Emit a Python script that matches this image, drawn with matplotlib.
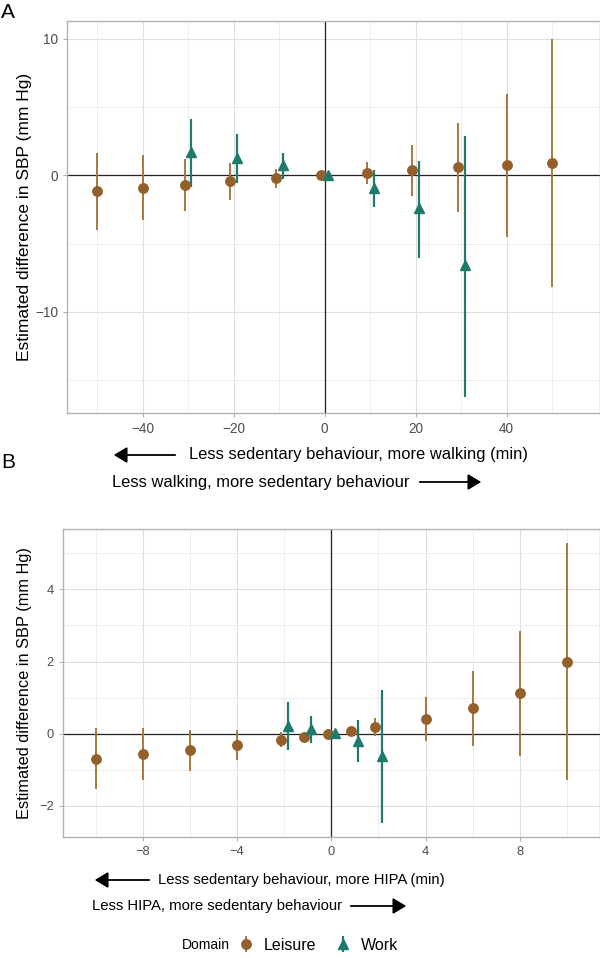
import matplotlib
matplotlib.use("Agg")
import matplotlib.pyplot as plt
import numpy as np

plt.rcParams['font.family'] = ['Liberation Sans', 'DejaVu Sans']

# panel A: walking
a_leis_x = [-50, -40, -30, -20, -10, 0, 10, 20, 30, 40, 50]
a_leis_est = [-1.15, -0.93, -0.68, -0.44, -0.22, 0.0, 0.2, 0.39, 0.61, 0.78, 0.9]
a_leis_lo = [-4.02, -3.29, -2.59, -1.78, -0.93, 0.0, -0.61, -1.49, -2.66, -4.49, -8.15]
a_leis_hi = [1.66, 1.46, 1.2, 0.88, 0.49, 0.0, 1.0, 2.24, 3.83, 5.98, 9.98]
a_work_x = [-30, -20, -10, 0, 10, 20, 30]
a_work_est = [1.7, 1.3, 0.75, 0.0, -0.9, -2.4, -6.6]
a_work_lo = [-0.85, -0.59, -0.29, 0.0, -2.32, -6.05, -16.2]
a_work_hi = [4.15, 3.02, 1.66, 0.0, 0.41, 1.07, 2.85]

# panel B: HIPA
b_leis_x = [-10, -8, -6, -4, -2, -1, 0, 1, 2, 4, 6, 8, 10]
b_leis_est = [-0.69, -0.57, -0.45, -0.31, -0.17, -0.08, 0.0, 0.08, 0.19, 0.41, 0.70, 1.12, 2.0]
b_leis_lo = [-1.54, -1.29, -1.02, -0.74, -0.38, -0.12, 0.0, 0.04, -0.07, -0.19, -0.35, -0.63, -1.27]
b_leis_hi = [0.16, 0.15, 0.11, 0.09, 0.05, -0.04, 0.0, 0.12, 0.44, 1.01, 1.75, 2.85, 5.27]
b_work_x = [-2, -1, 0, 1, 2]
b_work_est = [0.22, 0.13, 0.02, -0.19, -0.63]
b_work_lo = [-0.44, -0.27, 0.02, -0.77, -2.47]
b_work_hi = [0.87, 0.5, 0.02, 0.39, 1.22]

brown = '#93602B'
brown_bar = '#A9773F'
teal = '#1D7A6D'
teal_bar = '#24796D'


def panel(ax, lx, le, llo, lhi, wx, we, wlo, whi, dodge, fs, tfs):
    lx = np.array(lx, float)
    wx = np.array(wx, float)
    both = np.isin(lx, wx)
    lxd = lx - dodge * both
    wxd = wx + dodge
    le, llo, lhi = map(np.array, (le, llo, lhi))
    we, wlo, whi = map(np.array, (we, wlo, whi))
    ax.axhline(0, color='#222222', lw=0.9, zorder=1)
    ax.axvline(0, color='#222222', lw=0.9, zorder=1)
    h1 = ax.errorbar(lxd, le, yerr=[le - llo, lhi - le], fmt='o', ms=6.8,
                     color=brown, ecolor=brown_bar, elinewidth=1.4, capsize=0,
                     zorder=3, label='Leisure')
    h2 = ax.errorbar(wxd, we, yerr=[we - wlo, whi - we], fmt='^', ms=7.5,
                     color=teal, ecolor=teal_bar, elinewidth=1.6, capsize=0,
                     zorder=3, label='Work')
    ax.grid(True, which='major', color='#DEDEDE', lw=0.8, zorder=0)
    ax.grid(True, which='minor', color='#EBEBEB', lw=0.6, zorder=0)
    ax.set_axisbelow(True)
    for s in ax.spines.values():
        s.set_color('#B3B3B3')
        s.set_linewidth(1.0)
    ax.tick_params(which='major', colors='#B3B3B3', labelcolor='#4D4D4D',
                   labelsize=tfs, length=3)
    ax.tick_params(which='minor', length=0)
    ax.set_ylabel('Estimated difference in SBP (mm Hg)', fontsize=fs)
    return h1, h2


fig = plt.figure(figsize=(6, 9.58), dpi=100)

axA = fig.add_axes([67 / 600, 1 - 413 / 958, 533 / 600, 392 / 958])
h1, h2 = panel(axA, a_leis_x, a_leis_est, a_leis_lo, a_leis_hi,
               a_work_x, a_work_est, a_work_lo, a_work_hi, 0.75, 12.5, 9.8)
axA.set_xlim(-56.6, 60.5)
axA.set_ylim(-17.4, 11.3)
axA.set_xticks([-40, -20, 0, 20, 40])
axA.set_xticks([-50, -30, -10, 10, 30, 50], minor=True)
axA.set_yticks([-10, 0, 10])
axA.set_yticks([-15, -5, 5], minor=True)
axA.set_xticklabels(['\u221240', '\u221220', '0', '20', '40'])
axA.set_yticklabels(['\u221210', '0', '10'])
axA.yaxis.set_label_coords(-0.066, 0.5)

axB = fig.add_axes([62.7 / 600, 1 - 837 / 958, 537.3 / 600, 308 / 958])
panel(axB, b_leis_x, b_leis_est, b_leis_lo, b_leis_hi,
      b_work_x, b_work_est, b_work_lo, b_work_hi, 0.15, 11.8, 9.3)
axB.set_xlim(-11.4, 11.4)
axB.set_ylim(-2.86, 5.67)
axB.set_xticks([-8, -4, 0, 4, 8])
axB.set_xticks([-10, -6, -2, 2, 6, 10], minor=True)
axB.set_yticks([-2, 0, 2, 4])
axB.set_yticks([-1, 1, 3, 5], minor=True)
axB.set_xticklabels(['\u22128', '\u22124', '0', '4', '8'])
axB.set_yticklabels(['\u22122', '0', '2', '4'])
axB.yaxis.set_label_coords(-0.057, 0.5)

fig.text(1 / 600, 1 - 12 / 958, 'A', fontsize=15, va='center', ha='left')
fig.text(1 / 600, 1 - 463 / 958, 'B', fontsize=15, va='center', ha='left')


def px(x, y):
    return (x / 600, 1 - y / 958)


def arrow(x0, x1, y):
    fig.add_artist(matplotlib.patches.FancyArrowPatch(
        px(x0, y), px(x1, y), transform=fig.transFigure,
        arrowstyle='-|>,head_length=5,head_width=3', mutation_scale=1.6,
        color='black', lw=1.3))


# walking annotations
fig.text(*px(189, 455), 'Less sedentary behaviour, more walking (min)',
         fontsize=11.9, va='center', ha='left')
arrow(178, 111, 455)
fig.text(*px(112, 482), 'Less walking, more sedentary behaviour',
         fontsize=11.9, va='center', ha='left')
arrow(417, 484, 482)

# HIPA annotations
fig.text(*px(158, 880), 'Less sedentary behaviour, more HIPA (min)',
         fontsize=10.7, va='center', ha='left')
arrow(152, 92, 880)
fig.text(*px(92, 906), 'Less HIPA, more sedentary behaviour',
         fontsize=10.7, va='center', ha='left')
arrow(348, 409, 906)

# legend
fig.text(*px(182, 945), 'Domain', fontsize=10, va='center', ha='left')
fig.legend([h1, h2], ['Leisure', 'Work'], loc='center', ncol=2,
           bbox_to_anchor=px(318, 945), frameon=False, fontsize=11.5,
           handlelength=1.0, handletextpad=0.6, columnspacing=1.2)

fig.savefig('out.png', dpi=100)
